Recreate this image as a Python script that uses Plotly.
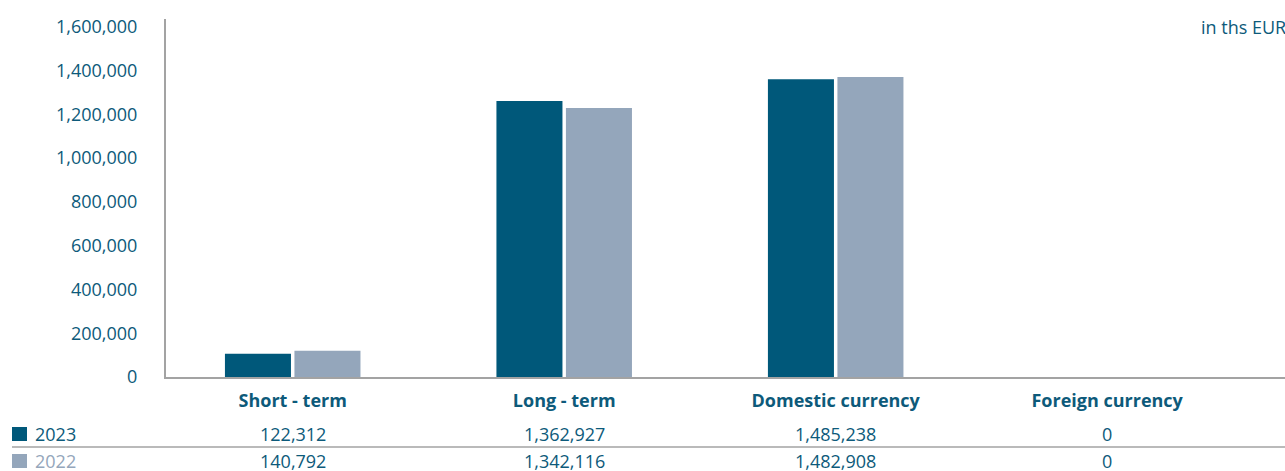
import plotly.graph_objects as go

# ---- data ----
categories = ["Short - term", "Long - term", "Domestic currency", "Foreign currency"]
years = ["2023", "2022"]
bars_2023 = [106000, 1260000, 1360000, 0]      # bar heights as drawn
bars_2022 = [120000, 1228000, 1370000, 0]
table_2023 = ["122,312", "1,362,927", "1,485,238", "0"]  # values printed in table
table_2022 = ["140,792", "1,342,116", "1,482,908", "0"]
y_ticks = [0, 200000, 400000, 600000, 800000, 1000000, 1200000, 1400000, 1600000]
y_tick_labels = ["0", "200,000", "400,000", "600,000", "800,000",
                 "1,000,000", "1,200,000", "1,400,000", "1,600,000"]
unit_label = "in ths EUR"

# ---- style ----
C2023 = "#00587a"
C2022 = "#94a6bb"
TEXT = "#0d5a7a"
AXIS = "#a3a3a3"
FONT = "Open Sans"
FS = 18

fig = go.Figure()
fig.add_trace(go.Bar(x=categories, y=bars_2023, name=years[0], marker=dict(color=C2023, line=dict(width=0))))
fig.add_trace(go.Bar(x=categories, y=bars_2022, name=years[1], marker=dict(color=C2022, line=dict(width=0))))

annotations = []
shapes = []
rows = [(years[0], table_2023, C2023, TEXT, -57), (years[1], table_2022, C2022, C2022, -84)]
for name, vals, sq_col, txt_col, ys in rows:
    for cat, v in zip(categories, vals):
        annotations.append(dict(x=cat, xref="x", y=0, yref="paper", yshift=ys, yanchor="middle",
                                xanchor="center", text=v, showarrow=False,
                                font=dict(family=FONT, size=FS, color=TEXT)))
    annotations.append(dict(x=0, xref="paper", xshift=-133, xanchor="left", y=0, yref="paper",
                            yshift=ys, yanchor="middle", text=name, showarrow=False,
                            font=dict(family=FONT, size=FS, color=txt_col)))
    shapes.append(dict(type="rect", xref="paper", xsizemode="pixel", xanchor=0, x0=-154, x1=-139,
                       yref="paper", ysizemode="pixel", yanchor=0, y0=ys + 7, y1=ys - 7,
                       fillcolor=sq_col, line=dict(width=0)))

shapes.append(dict(type="line", xref="paper", xsizemode="pixel", xanchor=0, x0=-154, x1=1125,
                   yref="paper", ysizemode="pixel", yanchor=0, y0=-70, y1=-70,
                   line=dict(color=AXIS, width=1.5)))

annotations.append(dict(x=1, xref="paper", xanchor="right", xshift=3, y=1, yref="paper", yshift=-8,
                        yanchor="middle", text=unit_label, showarrow=False,
                        font=dict(family=FONT, size=18, color=TEXT)))

fig.update_layout(
    width=1285, height=471,
    margin=dict(l=166, r=0, t=19, b=94),
    paper_bgcolor="white", plot_bgcolor="white",
    barmode="group", bargap=0.488, bargroupgap=0.05,
    showlegend=False,
    font=dict(family=FONT, size=FS, color=TEXT),
    xaxis=dict(type="category", range=[-0.4667, 3.655], showline=True, linecolor=AXIS, linewidth=2,
               showgrid=False, ticks="", ticklabelstandoff=6,
               tickfont=dict(family=FONT, size=FS, color=TEXT, weight="bold")),
    yaxis=dict(range=[0, 1635000], tickvals=y_ticks, ticktext=y_tick_labels, showline=True,
               linecolor=AXIS, linewidth=2, showgrid=False, zeroline=False, ticks="",
               ticklabelstandoff=23, tickfont=dict(family=FONT, size=FS, color=TEXT)),
    annotations=annotations, shapes=shapes,
)

fig.write_html("out.html")
